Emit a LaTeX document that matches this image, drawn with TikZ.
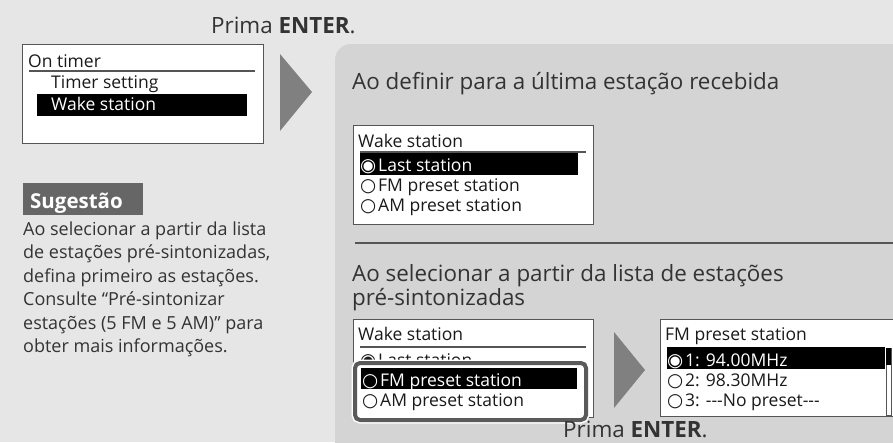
\documentclass[tikz,border=0pt]{standalone}
\usepackage{fontspec}
\setmainfont{Open Sans}
\newfontfamily\symfont{DejaVu Sans}
\definecolor{bgcol}{HTML}{E6E6E7}
\definecolor{panelcol}{HTML}{D4D4D5}
\definecolor{txtcol}{HTML}{333333}
\definecolor{lcdtxt}{HTML}{1A1A1A}
\definecolor{boxline}{HTML}{555555}
\definecolor{tricol}{HTML}{808080}
\definecolor{tipcol}{HTML}{666666}
\definecolor{hlcol}{HTML}{5A5A5A}
\newcommand{\rsel}{\makebox[17pt][l]{\hspace{-1pt}\symfont\fontsize{18.5}{18.5}\selectfont ◉}}
\newcommand{\roff}{\makebox[17pt][l]{\hspace{-1pt}\symfont\fontsize{18.5}{18.5}\selectfont ○}}
\begin{document}
\begin{tikzpicture}[x=1pt,y=-1pt,
  head/.style={anchor=base west,inner sep=0,text=txtcol,font=\fontsize{22.4}{26}\selectfont},
  lcd/.style={anchor=base west,inner sep=0,text=lcdtxt,font=\fontsize{17.5}{20}\selectfont},
  lcdw/.style={lcd,text=white},
  para/.style={anchor=base west,inner sep=0,text=txtcol,font=\fontsize{18}{22}\selectfont},
  lcdbox/.style={draw=boxline,line width=1.2pt,fill=white,anchor=north west,inner sep=0},
  selbar/.style={fill=black},
  tri/.style={fill=tricol}
]
\useasboundingbox (0,0) rectangle (893,442);
\clip (0,0) rectangle (893,442);
\fill[bgcol] (0,0) rectangle (893,442);
\fill[panelcol,rounded corners=16pt] (335,44) rectangle (930,480);

% top instruction
\node[head] (enter1) at (211,33) {Prima \textbf{ENTER}.};

% On timer box
\node[lcdbox,minimum width=241pt,minimum height=99pt] (box1) at (22,44) {};
\node[lcd] (ontimer) at (28,67) {On timer};
\coordinate (l1a) at (29,71); \coordinate (l1b) at (255,71);
\draw[boxline,line width=1.2pt] (l1a) -- (l1b);
\node[lcd] (timerset) at (51,88) {Timer setting};
\fill[selbar] (37,94) rectangle (247,116);
\node[lcdw] (wake1) at (51,110) {Wake station};

% arrow 1
\coordinate (t1a) at (280,54); \coordinate (t1b) at (312,92); \coordinate (t1c) at (280,131);
\fill[tri] (t1a) -- (t1b) -- (t1c) -- cycle;

% Sugestao
\fill[tipcol] (23,183) rectangle (143,215);
\node[anchor=base west,inner sep=0,text=white,font=\fontsize{20.5}{24}\selectfont\bfseries] (sug) at (30,208) {Sugestão};
\node[para] (tip1) at (23,235) {Ao selecionar a partir da lista};
\node[para] (tip2) at (23,258.5) {de estações pré-sintonizadas,};
\node[para] (tip3) at (23,282) {defina primeiro as estações.};
\node[para] (tip4) at (23,305.5) {Consulte “Pré-sintonizar};
\node[para] (tip5) at (23,329) {estações (5 FM e 5 AM)” para};
\node[para] (tip6) at (23,352.5) {obter mais informações.};

% panel heading 1
\node[head] (h1) at (352,89) {Ao definir para a última estação recebida};

% Wake station box (upper)
\node[lcdbox,minimum width=240pt,minimum height=99pt] (box2) at (353,125) {};
\node[lcd] (wake2) at (358,147) {Wake station};
\coordinate (l2a) at (360,152); \coordinate (l2b) at (586,152);
\draw[boxline,line width=1.2pt] (l2a) -- (l2b);
\fill[selbar] (360,153) rectangle (578,175);
\node[lcdw] (last2) at (361,171) {\rsel Last station};
\node[lcd] (fm2) at (361,191) {\roff FM preset station};
\node[lcd] (am2) at (361,211) {\roff AM preset station};

% divider
\coordinate (da) at (355,243); \coordinate (db) at (893,243);
\draw[boxline,line width=1.3pt] (da) -- (db);

% panel heading 2
\node[head] (h2) at (352,281) {Ao selecionar a partir da lista de estações};
\node[head] (h3) at (352,305) {pré-sintonizadas};

% Wake station box (lower)
\node[lcdbox,minimum width=240pt,minimum height=98pt] (box3) at (353,319) {};
\node[lcd] (wake3) at (358,340) {Wake station};
\coordinate (l3a) at (360,347); \coordinate (l3b) at (586,347);
\draw[boxline,line width=1.2pt] (l3a) -- (l3b);
\node[lcd] (last3) at (361,366) {\rsel Last station};
% highlight frame
\draw[white,line width=7pt,rounded corners=5pt] (355,363) rectangle (586,420);
\draw[hlcol,fill=white,line width=4pt,rounded corners=5pt] (355,363) rectangle (586,420);
\fill[selbar] (361,368) rectangle (577,389);
\node[lcdw] (fm3) at (363,386) {\roff FM preset station};
\node[lcd] (am3) at (363,406) {\roff AM preset station};

% arrow 2
\coordinate (t2a) at (614,332); \coordinate (t2b) at (645,370); \coordinate (t2c) at (614,408);
\fill[tri] (t2a) -- (t2b) -- (t2c) -- cycle;

% FM preset box
\node[lcdbox,minimum width=260pt,minimum height=97pt] (box4) at (660,319) {};
\node[lcd] (fmtitle) at (665,340) {FM preset station};
\fill[selbar] (667,347) rectangle (885,369);
\node[lcdw] (p1) at (668,366) {\rsel 1: 94.00MHz};
\node[lcd] (p2) at (668,386) {\roff 2: 98.30MHz};
\node[lcd] (p3) at (668,406) {\roff 3: {-}{-}{-}No preset{-}{-}{-}};
\draw[boxline,line width=0.8pt] (886,348) rectangle (891,415);
\fill[black] (886,348) rectangle (891,365);

% bottom instruction
\node[head] (enter2) at (563,437) {Prima \textbf{ENTER}.};
\end{tikzpicture}
\end{document}
